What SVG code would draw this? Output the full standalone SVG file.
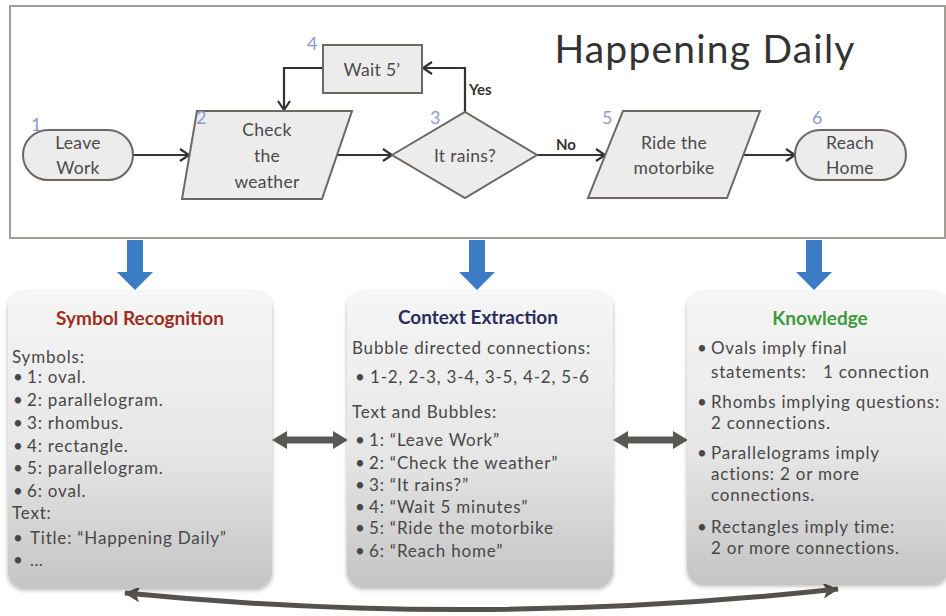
<svg xmlns="http://www.w3.org/2000/svg" width="946" height="616" viewBox="0 0 946 616">
<defs>
<style>
.shape{fill:#ececec;stroke:#6b6763;stroke-width:2}
.ft{font-family:Lato,"Open Sans",sans-serif;font-size:17.5px;letter-spacing:0.3px;fill:#4a4a4a;text-anchor:middle}
.num{font-family:Lato,"Open Sans",sans-serif;font-size:18px;fill:#8b9bd0}
.lbl{font-family:Lato,"Open Sans",sans-serif;font-size:15px;font-weight:bold;fill:#333}
.conn{fill:none;stroke:#333;stroke-width:2.2}
.box{fill:url(#boxg);filter:url(#shadow)}
.bt{font-family:Lato,"Open Sans",sans-serif;font-size:17px;letter-spacing:0.8px;fill:#474747}
.hd{font-family:Lato,"Open Sans",sans-serif;font-size:19px;font-weight:bold;text-anchor:middle}
.blue{fill:#3b7cc4}
.gray{fill:#5a5854}
</style>
<linearGradient id="boxg" x1="0" y1="0" x2="0" y2="1">
<stop offset="0" stop-color="#f6f6f6"/>
<stop offset="0.55" stop-color="#e6e6e6"/>
<stop offset="1" stop-color="#c4c4c4"/>
</linearGradient>
<filter id="shadow" x="-10%" y="-10%" width="120%" height="120%">
<feDropShadow dx="0" dy="2" stdDeviation="2" flood-color="#000" flood-opacity="0.3"/>
</filter>
<marker id="vhead" markerUnits="userSpaceOnUse" markerWidth="14" markerHeight="14" refX="11" refY="7" orient="auto">
<path d="M2,1 L11,7 L2,13" fill="none" stroke="#333" stroke-width="2.2"/>
</marker>
<marker id="fhead" markerUnits="userSpaceOnUse" markerWidth="18" markerHeight="16" refX="15" refY="8" orient="auto-start-reverse">
<path d="M0,0 L16,8 L0,16 L4,8 Z" fill="#55524e"/>
</marker>
</defs>
<rect width="946" height="616" fill="#ffffff"/>

<!-- top frame -->
<rect x="10" y="6" width="935" height="232" fill="#ffffff" stroke="#a39d98" stroke-width="2"/>
<text x="705" y="63" font-family="Lato,'Open Sans',sans-serif" font-size="39" letter-spacing="1.2" fill="#333" text-anchor="middle">Happening Daily</text>

<g id="connectors">
<path class="conn" d="M133,155 H189" marker-end="url(#vhead)"/>
<path class="conn" d="M337,155 H392" marker-end="url(#vhead)"/>
<path class="conn" d="M465,112 V68 H423" marker-end="url(#vhead)"/>
<path class="conn" d="M322,68 H284 V110" marker-end="url(#vhead)"/>
<path class="conn" d="M537,155 H605" marker-end="url(#vhead)"/>
<path class="conn" d="M743,155 H795" marker-end="url(#vhead)"/>
<text class="lbl" x="469" y="95">Yes</text>
<text class="lbl" x="556" y="150">No</text>
</g>

<g id="node1">
<rect class="shape" x="23" y="130" width="110" height="50" rx="25"/>
<text class="num" x="31" y="131">1</text>
<text class="ft" x="78" y="149">Leave</text>
<text class="ft" x="78" y="174">Work</text>
</g>
<g id="node2">
<polygon class="shape" points="197,111 352,111 322,199 182,199"/>
<text class="num" x="196" y="124">2</text>
<text class="ft" x="267" y="136">Check</text>
<text class="ft" x="267" y="162">the</text>
<text class="ft" x="267" y="188">weather</text>
</g>
<g id="node3">
<polygon class="shape" points="392,155 465,112 537,155 465,198"/>
<text class="num" x="430" y="124">3</text>
<text class="ft" x="465" y="162">It rains?</text>
</g>
<g id="node4">
<rect class="shape" x="323" y="45" width="99" height="48"/>
<text class="num" x="307" y="50">4</text>
<text class="ft" x="372" y="76">Wait 5’</text>
</g>
<g id="node5">
<polygon class="shape" points="623,111 760,111 727,198 588,198"/>
<text class="num" x="602" y="124">5</text>
<text class="ft" x="674" y="149">Ride the</text>
<text class="ft" x="674" y="174">motorbike</text>
</g>
<g id="node6">
<rect class="shape" x="795" y="130" width="111" height="50" rx="25"/>
<text class="num" x="812" y="124">6</text>
<text class="ft" x="850" y="149">Reach</text>
<text class="ft" x="850" y="174">Home</text>
</g>

<g id="flow-arrows">
<polygon class="blue" points="127,240 143,240 143,272 153,272 135,290 117,272 127,272"/>
<polygon class="blue" points="469,240 485,240 485,272 495,272 477,290 459,272 469,272"/>
<polygon class="blue" points="806,240 822,240 822,272 832,272 814,290 796,272 806,272"/>
<polygon class="gray" points="272,440 287,431 287,436.5 333,436.5 333,431 348,440 333,449 333,443.5 287,443.5 287,449"/>
<polygon class="gray" points="613,440 628,431 628,436.5 673,436.5 673,431 688,440 673,449 673,443.5 628,443.5 628,449"/>
<path d="M125,593 Q480,628 838,589" fill="none" stroke="#55524e" stroke-width="5" marker-start="url(#fhead)" marker-end="url(#fhead)"/>
</g>

<g id="symbol-recognition">
<rect class="box" x="8" y="291" width="264" height="297" rx="16"/>
<text class="hd" x="140" y="325" fill="#9c2f1e">Symbol Recognition</text>
<text class="bt" x="12" y="363">Symbols:</text>
<text class="bt"><tspan x="13" y="383">•</tspan><tspan x="27">1: oval.</tspan></text>
<text class="bt"><tspan x="13" y="406">•</tspan><tspan x="27">2: parallelogram.</tspan></text>
<text class="bt"><tspan x="13" y="429">•</tspan><tspan x="27">3: rhombus.</tspan></text>
<text class="bt"><tspan x="13" y="452">•</tspan><tspan x="27">4: rectangle.</tspan></text>
<text class="bt"><tspan x="13" y="474">•</tspan><tspan x="27">5: parallelogram.</tspan></text>
<text class="bt"><tspan x="13" y="497">•</tspan><tspan x="27">6: oval.</tspan></text>
<text class="bt" x="12" y="519">Text:</text>
<text class="bt"><tspan x="13" y="544">•</tspan><tspan x="30">Title: “Happening Daily”</tspan></text>
<text class="bt"><tspan x="13" y="566">•</tspan><tspan x="30">…</tspan></text>
</g>

<g id="context-extraction">
<rect class="box" x="347" y="291" width="266" height="296" rx="16"/>
<text class="hd" x="478" y="324" fill="#2b2e5c">Context Extraction</text>
<text class="bt" x="352" y="354">Bubble directed connections:</text>
<text class="bt"><tspan x="355" y="383">•</tspan><tspan x="370">1-2, 2-3, 3-4, 3-5, 4-2, 5-6</tspan></text>
<text class="bt" x="352" y="418">Text and Bubbles:</text>
<text class="bt"><tspan x="355" y="446">•</tspan><tspan x="369">1: “Leave Work”</tspan></text>
<text class="bt"><tspan x="355" y="469">•</tspan><tspan x="369">2: “Check the weather”</tspan></text>
<text class="bt"><tspan x="355" y="491">•</tspan><tspan x="369">3: “It rains?”</tspan></text>
<text class="bt"><tspan x="355" y="513">•</tspan><tspan x="369">4: “Wait 5 minutes”</tspan></text>
<text class="bt"><tspan x="355" y="534">•</tspan><tspan x="369">5: “Ride the motorbike</tspan></text>
<text class="bt"><tspan x="355" y="557">•</tspan><tspan x="369">6: “Reach home”</tspan></text>
</g>

<g id="knowledge">
<rect class="box" x="687" y="291" width="262" height="293" rx="16"/>
<text class="hd" x="820" y="325" fill="#3f9a3c">Knowledge</text>
<text class="bt"><tspan x="697" y="354">•</tspan><tspan x="711">Ovals imply final</tspan></text>
<text class="bt"><tspan x="711" y="378">statements:</tspan><tspan x="823">1 connection</tspan></text>
<text class="bt"><tspan x="697" y="408">•</tspan><tspan x="711">Rhombs implying questions:</tspan></text>
<text class="bt" x="711" y="429">2 connections.</text>
<text class="bt"><tspan x="697" y="459">•</tspan><tspan x="711">Parallelograms imply</tspan></text>
<text class="bt" x="711" y="480">actions: 2 or more</text>
<text class="bt" x="711" y="501">connections.</text>
<text class="bt"><tspan x="697" y="533">•</tspan><tspan x="711">Rectangles imply time:</tspan></text>
<text class="bt" x="711" y="554">2 or more connections.</text>
</g>
</svg>
